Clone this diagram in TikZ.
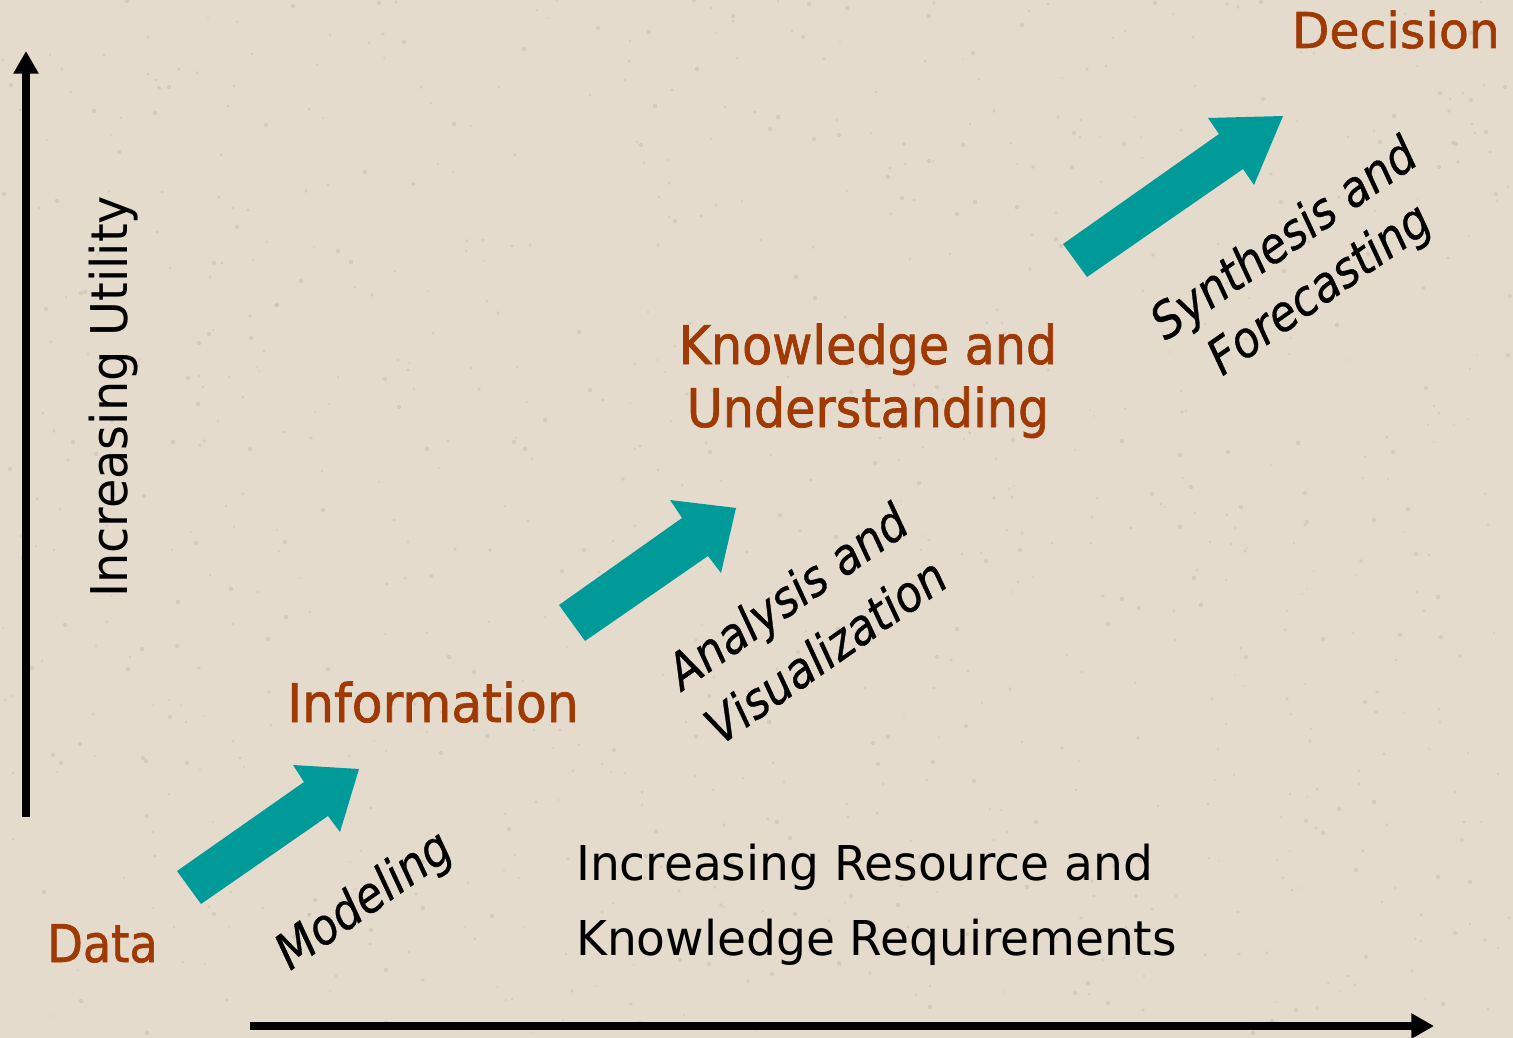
\documentclass[tikz,border=0pt]{standalone}
\usepackage{fontspec}
\setmainfont{DejaVu Sans Condensed}
\usetikzlibrary{arrows.meta}
\definecolor{parchment}{HTML}{E4DBCC}
\definecolor{speck}{HTML}{B8AE9E}
\definecolor{rust}{HTML}{A03A05}
\definecolor{tealfill}{HTML}{009B99}
\newcommand{\stagefont}[2]{\fontsize{#1}{48pt}\selectfont\addfontfeatures{FakeBold=1.3,FakeStretch=#2}}
\newcommand{\plainfont}[2]{\fontsize{#1}{48pt}\selectfont\addfontfeatures{FakeStretch=#2}}
\tikzset{
  stagelabel/.style={text=rust, inner sep=0pt},
  axislabel/.style={text=black, inner sep=0pt},
  steplabel/.style={text=black, inner sep=0pt, align=center, rotate=35,
    font=\fontsize{37pt}{50pt}\selectfont\itshape\addfontfeatures{FakeBold=0.6}},
  bigarrow/.style={fill=tealfill, draw=none},
  axisline/.style={line width=6pt, -{Triangle[length=17pt,width=18pt]}}
}
\begin{document}
\begin{tikzpicture}[x=0.75pt, y=-0.75pt]
  % page and background with a light speckled grain
  \fill[parchment] (0,0) rectangle (1513,1038);
  \useasboundingbox (0,0) rectangle (1513,1038);
  \pgfmathsetseed{4711}
  \foreach \i in {1,...,900}{
    \pgfmathsetmacro{\sx}{random(0,1513)}
    \pgfmathsetmacro{\sy}{random(0,1038)}
    \pgfmathsetmacro{\sr}{0.8+1.6*rnd}
    \fill[speck, opacity=0.35] (\sx,\sy) circle[radius=\sr];
  }

  % axes
  \coordinate (ybot) at (26,817);
  \coordinate (ytop) at (26,51);
  \coordinate (xleft) at (250,1026);
  \coordinate (xright) at (1434,1026);
  \draw[axisline] (ybot) -- (ytop);
  \draw[axisline] (xleft) -- (xright);

  % block arrows between stages
  \fill[bigarrow] (177,871) -- (304,782) -- (293,765) -- (359,769)
    -- (340,832) -- (328,816) -- (201,904) -- cycle;
  \fill[bigarrow] (559,605) -- (682,518) -- (670,500) -- (736,508)
    -- (721,573) -- (708,556) -- (585,641) -- cycle;
  \fill[bigarrow] (1063,244) -- (1219,134) -- (1208,118) -- (1283,116)
    -- (1254,185) -- (1243,169) -- (1087,277) -- cycle;

  % stage labels
  \node[stagelabel, anchor=base west, font=\stagefont{39pt}{0.99}] (data) at (47,962) {Data};
  \node[stagelabel, anchor=base west, font=\stagefont{40pt}{1.05}] (info) at (287,722) {Information};
  \node[stagelabel, anchor=base, font=\stagefont{40pt}{1.025}] (know1) at (868,364) {Knowledge and};
  \node[stagelabel, anchor=base, font=\stagefont{40pt}{1.025}] (know2) at (868,427) {Understanding};
  \node[stagelabel, anchor=base east, font=\stagefont{37pt}{1.1}] (decision) at (1500,48) {Decision};

  % process labels
  \node[steplabel] (modeling) at (365,902) {Modeling};
  \node[steplabel] (analysis) at (806,623) {Analysis and\\Visualization};
  \node[steplabel, font=\fontsize{37pt}{46pt}\selectfont\itshape\addfontfeatures{FakeBold=0.6}] (synthesis) at (1303,266) {Synthesis and\\Forecasting};

  % axis labels
  \node[axislabel, anchor=base west, font=\plainfont{36pt}{1.09}] (res1) at (576,880) {Increasing Resource and};
  \node[axislabel, anchor=base west, font=\plainfont{36pt}{1.09}] (res2) at (576,955) {Knowledge Requirements};
  \node[axislabel, anchor=base west, rotate=90, font=\plainfont{38pt}{1.047}] (utility) at (127,598) {Increasing Utility};
\end{tikzpicture}
\end{document}
